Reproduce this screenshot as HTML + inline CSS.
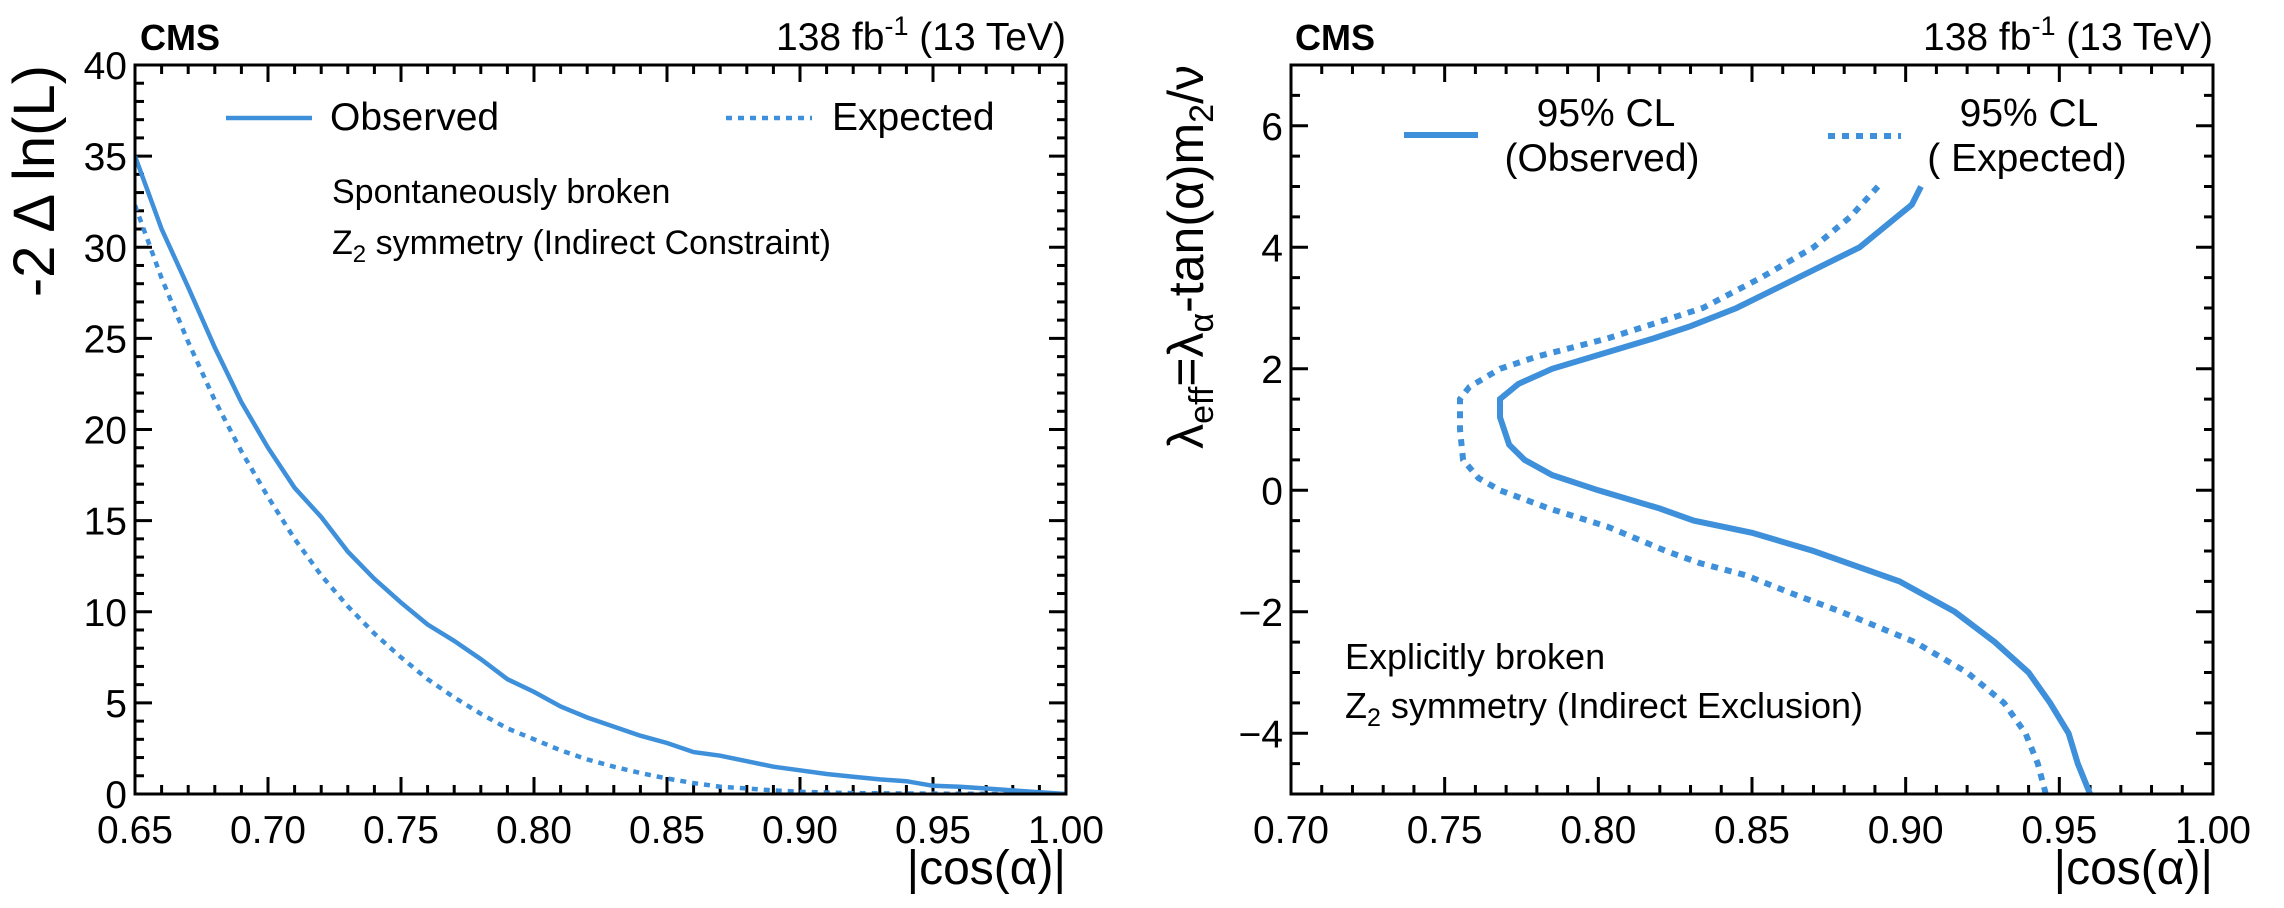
<!DOCTYPE html>
<html><head><meta charset="utf-8"><style>
html,body{margin:0;padding:0;background:#fff;}
svg{display:block;font-family:"Liberation Sans",sans-serif;}
</style></head><body>
<svg id="c" width="2284" height="908" viewBox="0 0 2284 908"></svg>
<script>
// Left panel data
const leftX = [0.65,0.66,0.67,0.68,0.69,0.70,0.71,0.72,0.73,0.74,0.75,0.76,0.77,0.78,0.79,0.80,0.81,0.82,0.83,0.84,0.85,0.86,0.87,0.88,0.89,0.90,0.91,0.92,0.93,0.94,0.95,0.96,0.97,0.98,0.99,1.00];
const leftObs = [35,31,27.8,24.5,21.5,19,16.8,15.2,13.3,11.8,10.5,9.3,8.4,7.4,6.3,5.6,4.8,4.2,3.7,3.2,2.8,2.3,2.1,1.8,1.5,1.3,1.1,0.95,0.8,0.7,0.45,0.4,0.3,0.2,0.1,0];
const leftExp = [32.3,28.3,24.8,21.6,18.8,16.3,14.0,12.0,10.3,8.8,7.5,6.3,5.3,4.4,3.6,3.0,2.4,1.9,1.5,1.15,0.85,0.6,0.4,0.3,0.2,0.12,0.08,0.05,0.04,0.03,0.02,0.01,0.01,0,0,0];
const leftXTicks = ["0.65","0.70","0.75","0.80","0.85","0.90","0.95","1.00"];
const leftYTicks = ["0","5","10","15","20","25","30","35","40"];
// Right panel data (contours: y values with x)
const rightObsY = [5,4.7,4,3,2.7,2.5,2,1.75,1.5,1.2,0.75,0.5,0.25,0,-0.3,-0.5,-0.7,-1,-1.5,-2,-2.5,-3,-3.5,-4,-4.5,-5];
const rightObsX = [0.905,0.902,0.885,0.845,0.83,0.818,0.785,0.774,0.768,0.768,0.771,0.776,0.785,0.80,0.82,0.831,0.85,0.87,0.898,0.916,0.929,0.94,0.947,0.953,0.956,0.960];
const rightExpY = [5,4.5,4,3.5,3,2.5,2.2,2,1.7,1.5,1,0.5,0.2,0,-0.3,-0.6,-1,-1.2,-1.4,-1.7,-2,-2.5,-3,-3.5,-4,-4.5,-5];
const rightExpX = [0.891,0.882,0.870,0.853,0.834,0.803,0.78,0.768,0.758,0.755,0.755,0.756,0.761,0.768,0.784,0.803,0.822,0.833,0.848,0.863,0.879,0.903,0.920,0.932,0.939,0.943,0.9456];
const rightXTicks = ["0.70","0.75","0.80","0.85","0.90","0.95","1.00"];
const rightYTicks = ["\u22124","\u22122","0","2","4","6"];

const NS="http://www.w3.org/2000/svg";
const svg=document.getElementById('c');
function mk(tag,attrs,parent){const e=document.createElementNS(NS,tag);for(const k in attrs)e.setAttribute(k,attrs[k]);(parent||svg).appendChild(e);return e;}
const BLUE="#3f90da";

function panel(o){
  const g=mk('g',{});
  
  
  const sx=v=>o.L+(v-o.x0)/(o.x1-o.x0)*(o.R-o.L);
  const sy=v=>o.B-(v-o.y0)/(o.y1-o.y0)*(o.B-o.T);
  // ticks
  const tk=mk('g',{stroke:'#000','stroke-width':3},g);
  
  
  const nx=Math.round((o.x1-o.x0)/o.xmin);
  for(let i=0;i<=nx;i++){const v=o.x0+i*o.xmin;const x=sx(v);const maj=(i%o.xmajEvery===0);const l=maj?17:9;
    mk('line',{x1:x,y1:o.B,x2:x,y2:o.B-l},tk);mk('line',{x1:x,y1:o.T,x2:x,y2:o.T+l},tk);}
  const ny=Math.round((o.y1-o.y0)/o.ymin);
  for(let i=0;i<=ny;i++){const v=o.y0+i*o.ymin;const y=sy(v);const maj=Math.abs((v-o.ymaj0)/o.ymaj-Math.round((v-o.ymaj0)/o.ymaj))<1e-6;const l=maj?17:9;
    mk('line',{x1:o.L,y1:y,x2:o.L+l,y2:y},tk);mk('line',{x1:o.R,y1:y,x2:o.R-l,y2:y},tk);}
  // tick labels
  o.xt.forEach((t,i)=>{const v=o.x0+i*o.xmin*o.xmajEvery;const e=mk('text',{x:sx(v),y:843,'font-size':39,'text-anchor':'middle'},g);e.textContent=t;
    });
  o.yt.forEach((t,i)=>{const v=o.ymaj0+i*o.ymaj;const e=mk('text',{x:o.L-8,y:sy(v)+14,'font-size':39,'text-anchor':'end'},g);e.textContent=t;
    });
  // curves
  const clip='clip-'+o.name;
  const cp=mk('clipPath',{id:clip},g);mk('rect',{x:o.L,y:o.T,width:o.R-o.L,height:o.B-o.T},cp);
  o.series.forEach(s=>{
    const d=s.xs.map((x,i)=>(i?'L':'M')+sx(x).toFixed(1)+','+sy(s.ys[i]).toFixed(1)).join('');
    const p=mk('path',{d:d,fill:'none',stroke:BLUE,'stroke-width':s.w,'clip-path':'url(#'+clip+')'},g);
    if(s.dash)p.setAttribute('stroke-dasharray',s.dash);
    
    
  });
  // frame
  const fr=mk('rect',{x:o.L,y:o.T,width:o.R-o.L,height:o.B-o.T,fill:'none',stroke:'#000','stroke-width':3},g);
  
  return g;
}

panel({name:'left-panel',L:135,R:1066,T:65,B:794,x0:0.65,x1:1.0,y0:0,y1:40,xmin:0.01,xmajEvery:5,ymin:1,ymaj:5,ymaj0:0,
  xt:leftXTicks,yt:leftYTicks,
  series:[{name:'observed-curve',xs:leftX,ys:leftObs,w:4.5},{name:'expected-curve',xs:leftX,ys:leftExp,w:4.5,dash:'6,6'}]});
panel({name:'right-panel',L:1291,R:2213,T:65,B:794,x0:0.70,x1:1.0,y0:-5,y1:7,xmin:0.01,xmajEvery:5,ymin:0.5,ymaj:2,ymaj0:-4,
  xt:rightXTicks,yt:rightYTicks,
  series:[{name:'observed-contour',xs:rightObsX,ys:rightObsY,w:6},{name:'expected-contour',xs:rightExpX,ys:rightExpY,w:6,dash:'7,7'}]});
</script>
<svg width="2284" height="908" viewBox="0 0 2284 908" style="position:absolute;left:0;top:0;font-family:'Liberation Sans',sans-serif">
  <text x="140" y="50" font-size="36" font-weight="bold">CMS</text>
  <text x="1066" y="50" font-size="39" text-anchor="end">138 fb<tspan dy="-15" font-size="27">-1</tspan><tspan dy="15"> (13 TeV)</tspan></text>
  <text x="1295" y="50" font-size="36" font-weight="bold">CMS</text>
  <text x="2213" y="50" font-size="39" text-anchor="end">138 fb<tspan dy="-15" font-size="27">-1</tspan><tspan dy="15"> (13 TeV)</tspan></text>

  <text transform="translate(54,65) rotate(-90)" font-size="58" text-anchor="end">-2 Δ ln(L)</text>
  <text x="1066" y="884" font-size="48" text-anchor="end">|cos(α)|</text>
  <text transform="translate(1203,65) rotate(-90)" font-size="50" text-anchor="end">λ<tspan font-size="34" dy="10">eff</tspan><tspan dy="-10">=λ</tspan><tspan font-size="34" dy="10">α</tspan><tspan dy="-10">-tan(α)m</tspan><tspan font-size="34" dy="10">2</tspan><tspan dy="-10">/ν</tspan></text>
  <text x="2213" y="884" font-size="48" text-anchor="end">|cos(α)|</text>

  <g>
    <line x1="226" y1="118" x2="312" y2="118" stroke="#3f90da" stroke-width="4.5"/>
    <text x="330" y="130" font-size="39">Observed</text>
    <line x1="726" y1="118" x2="812" y2="118" stroke="#3f90da" stroke-width="4.5" stroke-dasharray="6,6"/>
    <text x="832" y="130" font-size="39">Expected</text>
  </g>
  <text x="332" y="203" font-size="34">Spontaneously broken</text>
  <text x="332" y="254" font-size="34">Z<tspan font-size="24" dy="8">2</tspan><tspan dy="-8"> symmetry (Indirect Constraint)</tspan></text>

  <g>
    <line x1="1404" y1="135" x2="1478" y2="135" stroke="#3f90da" stroke-width="6"/>
    <text x="1606" y="126" font-size="39" text-anchor="middle">95% CL</text>
    <text x="1602" y="171" font-size="39" text-anchor="middle">(Observed)</text>
    <line x1="1828" y1="136" x2="1901" y2="136" stroke="#3f90da" stroke-width="6" stroke-dasharray="7,7"/>
    <text x="2029" y="126" font-size="39" text-anchor="middle">95% CL</text>
    <text x="2027" y="171" font-size="39" text-anchor="middle">( Expected)</text>
  </g>
  <text x="1345" y="669" font-size="36">Explicitly broken</text>
  <text x="1345" y="718" font-size="36">Z<tspan font-size="25" dy="8">2</tspan><tspan dy="-8"> symmetry (Indirect Exclusion)</tspan></text>
</svg>
</body></html>
